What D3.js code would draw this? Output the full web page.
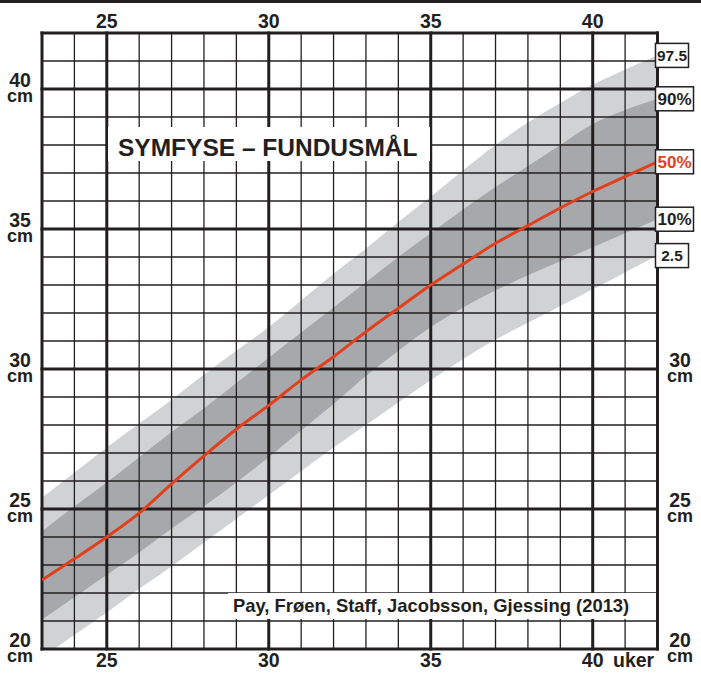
<!DOCTYPE html>
<html>
<head>
<meta charset="utf-8">
<script src="https://cdn.jsdelivr.net/npm/d3@7"></script>
<style>
  body { margin: 0; background: #fff; }
  svg { display: block; }
  text { font-family: "Liberation Sans", Arial, sans-serif; font-weight: bold; fill: #231f20; }
</style>
</head>
<body>
<div id="chart"></div>
<script>
// gestational week vs symphysis-fundus height (cm), percentiles
const weeks = [23, 24, 25, 26, 27, 28, 29, 30, 31, 32, 33, 34, 35, 36, 37, 38, 39, 40, 41, 42];
const p025 = [19.7, 20.5, 21.3, 22.15, 22.95, 23.8, 24.65, 25.5, 26.35, 27.2, 28.0, 28.8, 29.6, 30.35, 31.05, 31.65, 32.25, 32.85, 33.45, 34.05];
const p10  = [21.05, 21.85, 22.65, 23.45, 24.3, 25.1, 25.95, 26.85, 27.8, 28.75, 29.75, 30.65, 31.5, 32.2, 32.8, 33.35, 33.85, 34.35, 34.85, 35.35];
const p50  = [22.46, 23.22, 24.0, 24.85, 25.9, 26.9, 27.85, 28.7, 29.61, 30.44, 31.33, 32.17, 33.0, 33.75, 34.49, 35.12, 35.75, 36.34, 36.87, 37.4];
const p90  = [24.2, 25.1, 25.95, 26.85, 27.75, 28.6, 29.5, 30.4, 31.3, 32.2, 33.1, 34.0, 34.85, 35.7, 36.5, 37.25, 38.0, 38.75, 39.25, 39.65];
const p975 = [25.4, 26.3, 27.2, 28.05, 28.9, 29.8, 30.65, 31.5, 32.45, 33.4, 34.3, 35.25, 36.15, 37.1, 38.0, 38.8, 39.5, 40.15, 40.7, 41.2];

const weekTicks = [25, 30, 35, 40];
const leftCmTicks = [40, 35, 30, 25, 20];
const rightCmTicks = [30, 25, 20];
const pctLabels = [
  { text: "97.5", values: p975, size: 15.4, w: 33 },
  { text: "90%", values: p90, size: 17, w: 38 },
  { text: "50%", values: p50, size: 17, w: 38, red: true },
  { text: "10%", values: p10, size: 17, w: 38 },
  { text: "2.5", values: p025, size: 15.4, w: 33 }
];
const title = "SYMFYSE – FUNDUSMÅL";
const credit = "Pay, Frøen, Staff, Jacobsson, Gjessing (2013)";

const width = 701, height = 675;
const ink = "#231f20";
const red = "#e2401c";

const x = d3.scaleLinear().domain([23, 42]).range([42, 657.5]);
const y = d3.scaleLinear().domain([20, 42]).range([649, 33]);

const svg = d3.select("#chart").append("svg")
    .attr("width", width)
    .attr("height", height);

svg.append("rect").attr("x", 0).attr("y", 0).attr("width", width).attr("height", 3).attr("fill", ink);

svg.append("defs").append("clipPath").attr("id", "plot")
  .append("rect")
    .attr("x", x(23)).attr("y", y(42))
    .attr("width", x(42) - x(23)).attr("height", y(20) - y(42));

const rows = weeks.map((w, i) => ({ w, p025: p025[i], p10: p10[i], p50: p50[i], p90: p90[i], p975: p975[i] }));
const curve = d3.curveCatmullRom.alpha(0.5);

const bands = svg.append("g").attr("clip-path", "url(#plot)");

bands.append("path")
    .datum(rows)
    .attr("fill", "#d1d2d4")
    .attr("d", d3.area().curve(curve)
      .x(d => x(d.w)).y0(d => y(d.p025)).y1(d => y(d.p975)));

bands.append("path")
    .datum(rows)
    .attr("fill", "#a7a8ab")
    .attr("d", d3.area().curve(curve)
      .x(d => x(d.w)).y0(d => y(d.p10)).y1(d => y(d.p90)));

// grid
const gridW = d3.range(23, 43);
const gridC = d3.range(20, 43);
const isMajW = w => w % 5 === 0 || w === 23 || w === 42;
const isMajC = c => c % 5 === 0 || c === 42;

const grid = svg.append("g");
grid.selectAll(".vmin").data(gridW.filter(w => !isMajW(w))).enter().append("line")
    .attr("x1", d => x(d)).attr("x2", d => x(d))
    .attr("y1", y(42)).attr("y2", y(20))
    .attr("stroke", ink).attr("stroke-width", 1.3);
grid.selectAll(".hmin").data(gridC.filter(c => !isMajC(c))).enter().append("line")
    .attr("y1", d => y(d)).attr("y2", d => y(d))
    .attr("x1", x(23)).attr("x2", x(42))
    .attr("stroke", ink).attr("stroke-width", 1.3);
grid.selectAll(".vmaj").data(gridW.filter(isMajW)).enter().append("line")
    .attr("x1", d => x(d)).attr("x2", d => x(d))
    .attr("y1", y(42) - 1.5).attr("y2", y(20) + 1.5)
    .attr("stroke", ink).attr("stroke-width", 3);
grid.selectAll(".hmaj").data(gridC.filter(isMajC)).enter().append("line")
    .attr("y1", d => y(d)).attr("y2", d => y(d))
    .attr("x1", x(23) - 1.5).attr("x2", x(42) + 1.5)
    .attr("stroke", ink).attr("stroke-width", 3);

// median line
svg.append("path")
    .datum(rows)
    .attr("fill", "none")
    .attr("stroke", red)
    .attr("stroke-width", 3)
    .attr("clip-path", "url(#plot)")
    .attr("d", d3.line().curve(curve).x(d => x(d.w)).y(d => y(d.p50)));

// title box
svg.append("rect").attr("x", 108).attr("y", 127).attr("width", 322).attr("height", 34).attr("fill", "#fff");
svg.append("text").attr("x", 118).attr("y", 156).style("font-size", "24.5px").text(title);

// credit box
svg.append("rect").attr("x", 228).attr("y", 593).attr("width", x(42) - 1.5 - 228).attr("height", 26).attr("fill", "#fff");
svg.append("text").attr("x", 233).attr("y", 612).style("font-size", "18.4px").text(credit);

// week labels
svg.selectAll(".wtop").data(weekTicks).enter().append("text")
    .attr("x", d => x(d)).attr("y", 28)
    .attr("text-anchor", "middle").style("font-size", "19.5px").text(d => d);
svg.selectAll(".wbot").data(weekTicks).enter().append("text")
    .attr("x", d => x(d)).attr("y", 667)
    .attr("text-anchor", "middle").style("font-size", "19.5px").text(d => d);
svg.append("text").attr("x", 613).attr("y", 667).style("font-size", "19.5px").text("uker");

// cm labels: number with "cm" under it, one text element each
function cmLabel(cx, v) {
  const t = svg.append("text").attr("x", cx).attr("y", y(v) - 2)
      .attr("text-anchor", "middle");
  t.append("tspan").style("font-size", "19.5px").text(v);
  t.append("tspan").attr("x", cx).attr("dy", 15).style("font-size", "18px").text("cm");
}
leftCmTicks.forEach(v => cmLabel(20, v));
rightCmTicks.forEach(v => cmLabel(680, v));

// percentile boxes
pctLabels.forEach(p => {
  const cy = y(p.values[p.values.length - 1]);
  svg.append("rect")
      .attr("x", 655.5).attr("y", cy - 12).attr("width", p.w).attr("height", 24)
      .attr("fill", "#fff").attr("stroke", ink).attr("stroke-width", 1.5);
  svg.append("text")
      .attr("x", 655.5 + p.w / 2).attr("y", cy + p.size * 0.36)
      .attr("text-anchor", "middle")
      .style("font-size", p.size + "px")
      .style("fill", p.red ? red : ink)
      .text(p.text);
});
</script>
</body>
</html>
